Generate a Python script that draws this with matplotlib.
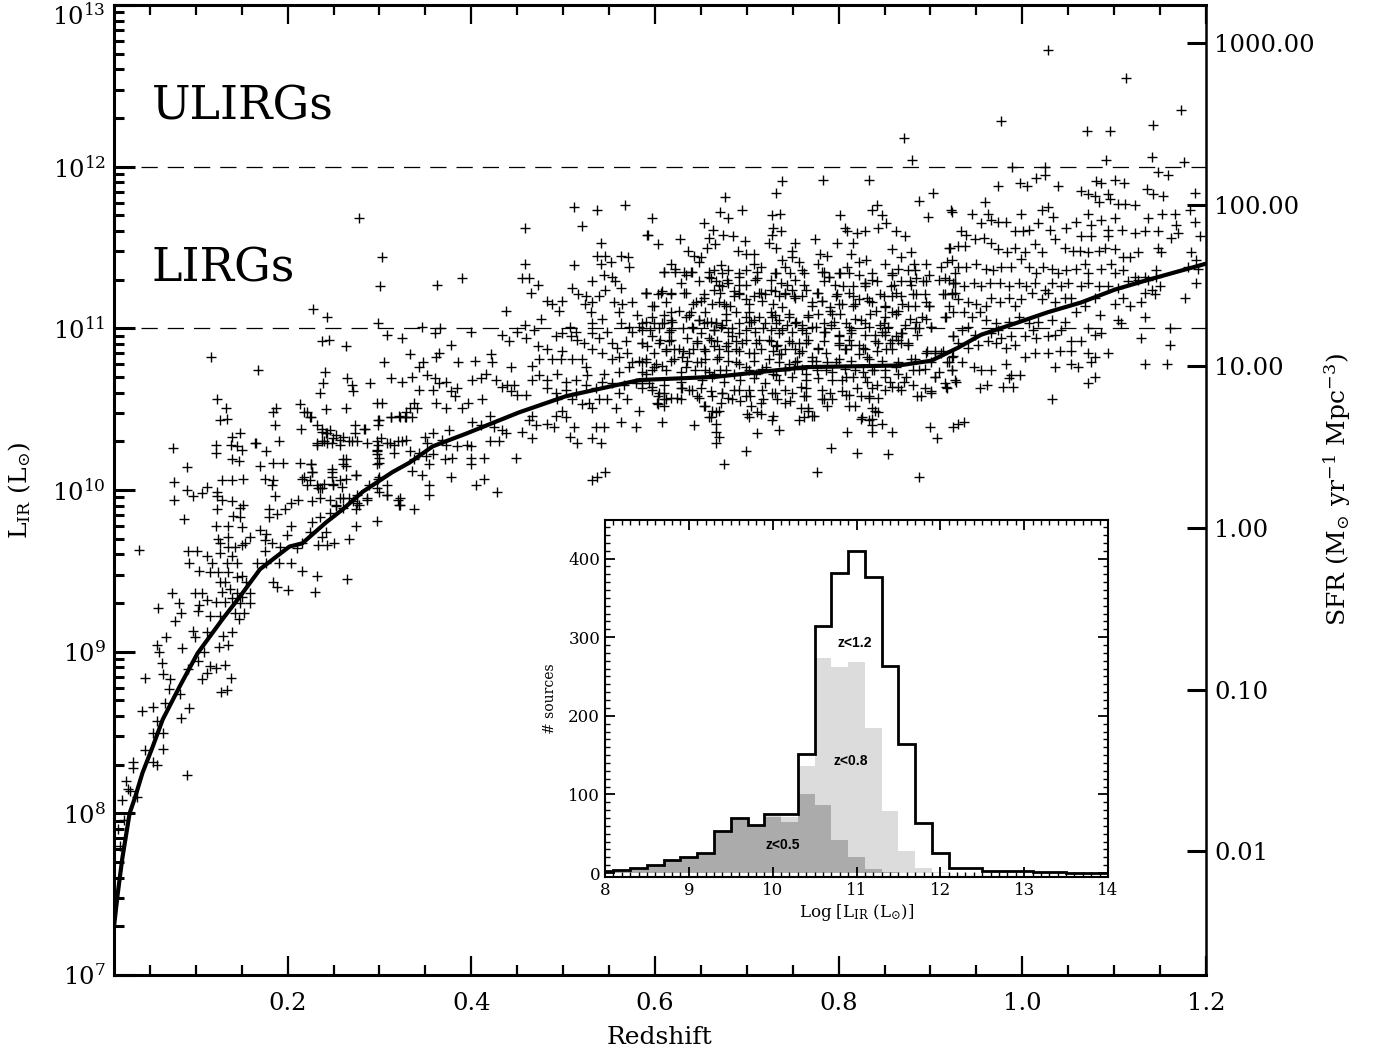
import numpy as np
import matplotlib
matplotlib.use('Agg')
import matplotlib.pyplot as plt
from matplotlib.ticker import FixedLocator, MultipleLocator, LogLocator, NullFormatter, NullLocator, FormatStrFormatter, FuncFormatter

plt.rcParams['font.family'] = 'DejaVu Serif'
plt.rcParams['mathtext.fontset'] = 'dejavuserif'

# running median of L_IR vs redshift
z_med = [0.011, 0.015, 0.02, 0.028, 0.034, 0.042, 0.053, 0.064, 0.083, 0.102, 0.129, 0.148,
         0.170, 0.202, 0.216, 0.242, 0.260, 0.282, 0.314, 0.333, 0.358, 0.395, 0.452, 0.503,
         0.583, 0.666, 0.764, 0.865, 0.901, 0.930, 0.955, 0.992, 1.028, 1.064, 1.101, 1.137, 1.200]
logL_med = [7.30, 7.50, 7.72, 8.00, 8.10, 8.25, 8.41, 8.58, 8.79, 8.99, 9.20, 9.34,
            9.51, 9.65, 9.67, 9.80, 9.88, 9.99, 10.11, 10.17, 10.27, 10.35, 10.48, 10.58,
            10.68, 10.70, 10.76, 10.77, 10.80, 10.88, 10.96, 11.03, 11.10, 11.16, 11.24, 11.30, 11.40]

# sources (z, log L_IR)
pts_low = [
    (0.038, 9.63), (0.075, 10.26), (0.090, 10.14), (0.076, 10.05), (0.076, 9.94), (0.090, 10.00),
    (0.097, 9.96), (0.087, 9.82), (0.059, 9.27), (0.074, 9.36), (0.082, 9.30), (0.084, 9.24),
    (0.077, 9.19), (0.068, 9.09), (0.058, 9.04), (0.060, 9.00), (0.063, 8.93), (0.045, 8.84),
    (0.064, 8.86), (0.072, 8.83), (0.071, 8.77), (0.053, 8.66), (0.066, 8.68), (0.041, 8.63),
    (0.058, 8.57), (0.053, 8.50), (0.064, 8.50), (0.045, 8.39), (0.064, 8.40), (0.053, 8.32),
    (0.058, 8.30), (0.032, 8.32), (0.032, 8.28), (0.024, 8.20), (0.028, 8.14), (0.036, 8.10),
    (0.090, 8.24), (0.083, 8.74), (0.093, 8.65), (0.084, 8.59), (0.085, 9.02), (0.097, 9.13),
    (0.099, 9.09), (0.102, 8.94), (0.092, 8.89), (0.107, 8.83), (0.112, 8.87), (0.115, 8.91),
    (0.122, 8.90), (0.132, 8.92), (0.138, 8.84), (0.128, 8.75), (0.134, 8.76), (0.125, 9.03),
    (0.135, 9.04), (0.130, 9.10), (0.139, 9.12), (0.112, 9.12), (0.109, 9.00), (0.115, 9.22),
    (0.126, 9.22), (0.104, 9.29), (0.102, 9.25), (0.112, 9.32), (0.099, 9.36), (0.107, 9.36),
    (0.122, 9.31), (0.132, 9.31), (0.140, 9.33), (0.148, 9.30), (0.153, 9.24), (0.147, 9.20),
    (0.143, 9.24), (0.159, 9.30), (0.150, 9.34), (0.159, 9.36), (0.129, 9.37), (0.137, 9.39),
    (0.132, 9.43), (0.126, 9.43), (0.145, 9.36), (0.115, 9.49), (0.124, 9.49), (0.135, 9.49),
    (0.145, 9.46), (0.150, 9.47), (0.155, 9.43), (0.104, 9.50), (0.093, 9.55), (0.092, 9.62),
    (0.101, 9.62), (0.112, 9.59), (0.118, 9.55), (0.126, 9.61), (0.134, 9.55), (0.139, 9.59),
    (0.145, 9.55), (0.135, 9.65), (0.143, 9.65), (0.150, 9.66), (0.154, 9.67), (0.126, 9.67),
    (0.135, 9.71), (0.124, 9.70), (0.159, 9.71), (0.122, 9.78), (0.135, 9.78), (0.150, 9.77),
    (0.141, 9.84), (0.148, 9.83), (0.148, 9.89), (0.151, 9.91), (0.139, 9.93), (0.123, 9.88),
    (0.123, 9.96), (0.123, 9.99), (0.129, 9.94), (0.129, 10.06), (0.140, 10.06), (0.151, 10.07),
    (0.112, 10.02), (0.107, 9.98), (0.122, 10.23), (0.122, 10.28), (0.138, 10.28), (0.145, 10.27),
    (0.150, 10.25), (0.140, 10.19), (0.147, 10.18), (0.140, 10.33), (0.148, 10.35), (0.126, 10.43),
    (0.134, 10.44), (0.133, 10.51), (0.123, 10.56), (0.117, 10.82), (0.168, 10.74),
    (0.015, 7.90), (0.020, 8.08), (0.022, 7.96), (0.026, 8.15), (0.017, 7.80),
]

pts_mid = [
    (0.166, 10.29), (0.176, 10.24), (0.170, 10.15), (0.184, 10.17), (0.195, 10.17), (0.213, 10.17),
    (0.226, 10.16), (0.175, 10.07), (0.184, 10.06), (0.183, 10.03), (0.186, 9.96), (0.180, 9.88),
    (0.188, 9.85), (0.180, 9.83), (0.197, 9.88), (0.204, 9.92), (0.211, 9.94), (0.204, 9.78),
    (0.170, 9.75), (0.177, 9.73), (0.175, 9.69), (0.183, 9.67), (0.192, 9.65), (0.199, 9.72),
    (0.175, 9.62), (0.167, 9.55), (0.177, 9.55), (0.191, 9.55), (0.204, 9.55), (0.184, 9.43),
    (0.188, 9.40), (0.201, 9.38), (0.216, 9.50), (0.232, 9.47), (0.230, 9.37), (0.265, 9.45),
    (0.210, 9.64), (0.216, 9.67), (0.224, 9.74), (0.233, 9.66), (0.243, 9.66), (0.251, 9.67),
    (0.238, 9.71), (0.242, 9.74), (0.267, 9.70), (0.275, 9.78), (0.297, 9.81), (0.227, 9.80),
    (0.235, 9.83), (0.246, 9.86), (0.253, 9.90), (0.260, 9.89), (0.275, 9.88), (0.257, 9.95),
    (0.267, 9.95), (0.276, 9.92), (0.287, 9.94), (0.308, 9.97), (0.322, 9.95), (0.322, 9.91),
    (0.297, 10.01), (0.308, 10.03), (0.300, 10.08), (0.257, 10.06), (0.264, 10.07), (0.275, 10.09),
    (0.249, 10.04), (0.232, 10.03), (0.238, 10.01), (0.216, 10.07), (0.224, 10.06), (0.235, 10.01),
    (0.248, 10.11), (0.264, 10.19), (0.260, 10.16), (0.227, 10.11), (0.232, 10.28), (0.240, 10.30),
    (0.248, 10.29), (0.257, 10.31), (0.267, 10.30), (0.276, 10.30), (0.286, 10.29), (0.297, 10.30),
    (0.308, 10.29), (0.316, 10.28), (0.325, 10.30), (0.297, 10.25), (0.316, 10.23), (0.299, 10.17),
    (0.297, 10.22), (0.232, 10.40), (0.238, 10.36), (0.243, 10.35), (0.253, 10.34), (0.260, 10.33),
    (0.273, 10.40), (0.273, 10.35), (0.283, 10.38), (0.297, 10.54), (0.303, 10.54), (0.298, 10.43),
    (0.298, 10.40), (0.313, 10.45), (0.322, 10.45), (0.329, 10.45), (0.242, 10.50), (0.264, 10.51),
    (0.215, 10.38), (0.218, 10.48), (0.224, 10.45), (0.213, 10.53), (0.187, 10.51), (0.184, 10.48),
    (0.186, 10.40), (0.191, 10.30), (0.165, 10.29), (0.320, 9.94),
    (0.278, 11.68), (0.303, 11.44), (0.301, 11.26), (0.363, 11.27), (0.390, 11.31), (0.228, 11.12),
    (0.243, 11.07), (0.298, 11.03), (0.238, 10.92), (0.245, 10.93), (0.264, 10.89), (0.308, 10.96),
    (0.325, 10.94), (0.346, 11.01), (0.360, 10.97), (0.366, 11.00), (0.400, 10.98), (0.378, 10.90),
    (0.333, 10.84), (0.347, 10.79), (0.305, 10.79), (0.362, 10.82), (0.365, 10.85), (0.343, 10.76),
    (0.386, 10.79), (0.404, 10.80), (0.421, 10.84), (0.423, 10.79), (0.443, 10.76), (0.241, 10.73),
    (0.239, 10.66), (0.235, 10.60), (0.265, 10.69), (0.270, 10.65), (0.271, 10.61), (0.290, 10.66),
    (0.313, 10.69), (0.325, 10.67), (0.336, 10.70), (0.352, 10.71), (0.361, 10.69), (0.365, 10.66),
    (0.373, 10.67), (0.378, 10.61), (0.384, 10.63), (0.382, 10.58), (0.358, 10.62), (0.343, 10.62),
    (0.401, 10.68), (0.411, 10.69), (0.416, 10.72), (0.427, 10.68), (0.433, 10.64), (0.439, 10.65),
    (0.447, 10.65), (0.443, 10.61), (0.450, 10.59), (0.460, 10.59), (0.412, 10.56), (0.396, 10.54),
    (0.390, 10.51), (0.362, 10.54), (0.373, 10.51), (0.338, 10.54), (0.333, 10.51), (0.341, 10.51),
    (0.329, 10.48), (0.336, 10.45), (0.313, 10.45), (0.321, 10.46), (0.328, 10.45), (0.299, 10.43),
    (0.284, 10.38), (0.221, 10.48), (0.225, 10.45), (0.238, 10.38), (0.246, 10.37), (0.242, 10.35),
    (0.249, 10.32), (0.232, 10.29), (0.237, 10.30), (0.243, 10.29), (0.257, 10.28), (0.270, 10.30),
    (0.302, 10.32), (0.298, 10.28), (0.297, 10.24), (0.300, 10.20), (0.297, 10.16), (0.311, 10.29),
    (0.320, 10.30), (0.329, 10.31), (0.333, 10.24), (0.338, 10.19), (0.343, 10.23), (0.351, 10.21),
    (0.350, 10.33), (0.358, 10.35), (0.352, 10.29), (0.368, 10.31), (0.376, 10.37), (0.373, 10.28),
    (0.385, 10.27), (0.395, 10.28), (0.400, 10.27), (0.401, 10.42), (0.411, 10.40), (0.420, 10.46),
    (0.425, 10.39), (0.433, 10.37), (0.438, 10.35), (0.420, 10.30), (0.430, 10.30), (0.414, 10.20),
    (0.400, 10.20), (0.400, 10.16), (0.379, 10.20), (0.371, 10.19), (0.358, 10.22), (0.354, 10.16),
    (0.346, 10.09), (0.336, 10.12), (0.378, 10.08), (0.354, 10.03), (0.354, 9.97), (0.405, 10.03),
    (0.414, 10.07), (0.428, 9.99), (0.449, 10.20), (0.308, 9.97), (0.321, 9.91), (0.338, 9.88),
    (0.287, 9.95), (0.276, 9.97), (0.300, 9.99), (0.298, 10.07), (0.289, 10.03), (0.274, 10.09),
    (0.259, 10.02), (0.249, 10.03), (0.248, 10.08), (0.248, 10.13), (0.260, 10.19), (0.264, 10.15),
    (0.226, 10.16), (0.227, 10.11), (0.218, 10.08), (0.221, 10.03), (0.233, 10.01), (0.240, 10.04),
    (0.235, 9.95), (0.227, 9.93), (0.246, 9.94), (0.253, 9.91), (0.260, 9.95), (0.271, 9.93),
    (0.278, 9.91),
]

pts_c = [
    (0.458, 11.62), (0.512, 11.75), (0.537, 11.73), (0.567, 11.76), (0.521, 11.63), (0.591, 11.58),
    (0.541, 11.53), (0.458, 11.40), (0.537, 11.45), (0.546, 11.45), (0.563, 11.45), (0.571, 11.44),
    (0.541, 11.40), (0.552, 11.41), (0.572, 11.38), (0.512, 11.39), (0.455, 11.31), (0.463, 11.31),
    (0.473, 11.27), (0.465, 11.22), (0.510, 11.25), (0.532, 11.29), (0.545, 11.33), (0.553, 11.32),
    (0.557, 11.29), (0.563, 11.25), (0.546, 11.24), (0.590, 11.22), (0.482, 11.17), (0.488, 11.15),
    (0.499, 11.17), (0.495, 11.11), (0.516, 11.21), (0.525, 11.20), (0.532, 11.16), (0.524, 11.15),
    (0.539, 11.20), (0.555, 11.16), (0.564, 11.15), (0.575, 11.16), (0.438, 11.11), (0.476, 11.06),
    (0.530, 11.10), (0.542, 11.06), (0.561, 11.10), (0.563, 11.03), (0.580, 11.08), (0.583, 11.01),
    (0.572, 11.01), (0.458, 11.02), (0.468, 10.99), (0.450, 10.98), (0.434, 10.96), (0.441, 10.92),
    (0.460, 10.94), (0.507, 11.01), (0.514, 10.98), (0.509, 10.95), (0.515, 10.93), (0.523, 10.91),
    (0.499, 10.97), (0.492, 10.95), (0.532, 11.03), (0.532, 10.97), (0.539, 10.94), (0.548, 10.98),
    (0.553, 10.91), (0.559, 10.88), (0.568, 10.92), (0.575, 10.98), (0.586, 10.91), (0.483, 10.87),
    (0.473, 10.89), (0.499, 10.86), (0.498, 10.81), (0.488, 10.81), (0.474, 10.81), (0.466, 10.77),
    (0.510, 10.81), (0.521, 10.81), (0.532, 10.87), (0.542, 10.85), (0.553, 10.81), (0.561, 10.82),
    (0.570, 10.85), (0.575, 10.79), (0.586, 10.79), (0.572, 10.76), (0.561, 10.73), (0.545, 10.72),
    (0.525, 10.76), (0.526, 10.71), (0.514, 10.68), (0.503, 10.67), (0.493, 10.72), (0.483, 10.68),
    (0.474, 10.71), (0.466, 10.68), (0.482, 10.63), (0.492, 10.60), (0.503, 10.62), (0.514, 10.60),
    (0.525, 10.65), (0.536, 10.63), (0.542, 10.67), (0.553, 10.66), (0.566, 10.65), (0.579, 10.66),
    (0.590, 10.72), (0.561, 10.60), (0.548, 10.56), (0.539, 10.56), (0.528, 10.54), (0.532, 10.51),
    (0.521, 10.53), (0.510, 10.56), (0.493, 10.56), (0.499, 10.49), (0.503, 10.45), (0.492, 10.46),
    (0.483, 10.41), (0.490, 10.39), (0.466, 10.46), (0.471, 10.40), (0.463, 10.43), (0.455, 10.36),
    (0.466, 10.32), (0.512, 10.39), (0.536, 10.39), (0.545, 10.39), (0.563, 10.42), (0.579, 10.39),
    (0.583, 10.49), (0.558, 10.51), (0.570, 10.56), (0.507, 10.33), (0.515, 10.29), (0.532, 10.32),
    (0.541, 10.29), (0.532, 10.06), (0.537, 10.08), (0.546, 10.11),
]

pts_d = [
    (0.871, 12.18), (0.880, 12.04), (0.738, 11.91), (0.783, 11.92), (0.833, 11.92), (0.903, 11.84),
    (0.732, 11.84), (0.676, 11.81), (0.888, 11.79), (0.842, 11.76), (0.671, 11.72), (0.695, 11.73),
    (0.679, 11.68), (0.597, 11.68), (0.727, 11.70), (0.736, 11.71), (0.802, 11.70), (0.836, 11.73),
    (0.847, 11.70), (0.897, 11.69), (0.922, 11.73), (0.653, 11.65), (0.592, 11.58), (0.603, 11.52),
    (0.627, 11.55), (0.663, 11.61), (0.674, 11.58), (0.685, 11.57), (0.698, 11.54), (0.659, 11.56),
    (0.665, 11.52), (0.657, 11.50), (0.636, 11.48), (0.642, 11.45), (0.650, 11.44), (0.690, 11.48),
    (0.699, 11.46), (0.708, 11.46), (0.727, 11.58), (0.729, 11.62), (0.737, 11.60), (0.724, 11.53),
    (0.732, 11.50), (0.753, 11.53), (0.749, 11.48), (0.774, 11.55), (0.798, 11.53), (0.807, 11.62),
    (0.809, 11.60), (0.820, 11.59), (0.829, 11.60), (0.843, 11.62), (0.852, 11.65), (0.862, 11.60),
    (0.872, 11.57), (0.816, 11.53), (0.814, 11.46), (0.780, 11.46), (0.787, 11.45), (0.858, 11.49),
    (0.868, 11.44), (0.879, 11.47), (0.921, 11.50), (0.911, 11.38), (0.918, 11.41), (0.618, 11.40),
    (0.610, 11.35), (0.622, 11.37), (0.634, 11.33), (0.640, 11.35), (0.648, 11.41), (0.664, 11.36),
    (0.672, 11.39), (0.680, 11.36), (0.659, 11.32), (0.666, 11.29), (0.678, 11.30), (0.691, 11.32),
    (0.699, 11.36), (0.708, 11.40), (0.715, 11.38), (0.711, 11.31), (0.732, 11.34), (0.738, 11.42),
    (0.749, 11.44), (0.742, 11.38), (0.757, 11.41), (0.760, 11.36), (0.778, 11.40), (0.784, 11.35),
    (0.789, 11.32), (0.800, 11.34), (0.809, 11.38), (0.822, 11.41), (0.830, 11.42), (0.836, 11.30),
    (0.829, 11.28), (0.851, 11.40), (0.858, 11.34), (0.865, 11.37), (0.876, 11.36), (0.882, 11.40),
    (0.895, 11.40), (0.884, 11.31), (0.895, 11.29), (0.879, 11.27), (0.868, 11.29), (0.857, 11.26),
    (0.849, 11.20), (0.858, 11.20), (0.868, 11.20), (0.884, 11.21), (0.895, 11.16), (0.898, 11.14),
    (0.916, 11.21), (0.923, 11.21), (0.927, 11.28), (0.917, 11.07), (0.590, 11.22), (0.599, 11.14),
    (0.607, 11.22), (0.618, 11.21), (0.634, 11.22), (0.612, 11.16), (0.617, 11.10), (0.626, 11.11),
    (0.639, 11.10), (0.645, 11.16), (0.653, 11.19), (0.664, 11.24), (0.673, 11.26), (0.670, 11.16),
    (0.677, 11.14), (0.686, 11.20), (0.691, 11.22), (0.699, 11.18), (0.708, 11.20), (0.715, 11.22),
    (0.726, 11.24), (0.735, 11.20), (0.742, 11.22), (0.749, 11.24), (0.753, 11.19), (0.764, 11.24),
    (0.771, 11.16), (0.778, 11.22), (0.782, 11.17), (0.791, 11.11), (0.797, 11.20), (0.800, 11.15),
    (0.811, 11.22), (0.816, 11.14), (0.822, 11.18), (0.829, 11.26), (0.836, 11.16), (0.841, 11.11),
    (0.851, 11.13), (0.858, 11.10), (0.865, 11.11), (0.876, 11.14), (0.884, 11.04), (0.895, 11.06),
    (0.901, 11.01), (0.925, 10.95), (0.586, 11.03), (0.597, 11.07), (0.608, 11.03), (0.617, 10.99),
    (0.618, 11.05), (0.634, 11.07), (0.640, 11.01), (0.648, 11.05), (0.653, 11.03), (0.661, 11.04),
    (0.666, 11.03), (0.664, 10.99), (0.672, 11.01), (0.677, 11.05), (0.684, 11.00), (0.691, 11.03),
    (0.699, 11.07), (0.705, 11.04), (0.713, 11.07), (0.718, 11.00), (0.727, 11.07), (0.732, 11.03),
    (0.738, 10.99), (0.746, 11.07), (0.754, 11.04), (0.760, 10.99), (0.767, 11.07), (0.775, 11.01),
    (0.784, 10.98), (0.792, 11.02), (0.800, 10.95), (0.808, 11.03), (0.814, 10.99), (0.824, 11.05),
    (0.833, 11.01), (0.840, 10.96), (0.849, 11.03), (0.851, 10.98), (0.862, 10.95), (0.868, 10.97),
    (0.876, 10.91), (0.887, 11.00), (0.597, 10.95), (0.591, 10.89), (0.604, 10.91), (0.612, 10.87),
    (0.618, 10.93), (0.626, 10.87), (0.629, 10.82), (0.637, 10.85), (0.646, 10.91), (0.653, 10.87),
    (0.661, 10.93), (0.664, 10.89), (0.670, 10.82), (0.677, 10.89), (0.684, 10.95), (0.688, 10.87),
    (0.695, 10.91), (0.702, 10.85), (0.710, 10.91), (0.715, 10.87), (0.724, 10.93), (0.732, 10.89),
    (0.735, 10.84), (0.742, 10.87), (0.749, 10.91), (0.757, 10.85), (0.764, 10.91), (0.771, 10.82),
    (0.778, 10.88), (0.786, 10.85), (0.800, 10.90), (0.808, 10.87), (0.814, 10.90), (0.822, 10.84),
    (0.829, 10.87), (0.833, 10.81), (0.843, 10.91), (0.852, 10.87), (0.858, 10.93), (0.868, 10.91),
    (0.879, 10.81), (0.895, 10.85), (0.905, 10.85), (0.912, 10.85), (0.583, 10.80), (0.590, 10.79),
    (0.599, 10.76), (0.608, 10.77), (0.618, 10.80), (0.634, 10.76), (0.646, 10.79), (0.655, 10.74),
    (0.664, 10.72), (0.677, 10.74), (0.688, 10.79), (0.699, 10.76), (0.710, 10.72), (0.721, 10.76),
    (0.732, 10.71), (0.742, 10.74), (0.753, 10.79), (0.764, 10.72), (0.775, 10.80), (0.786, 10.74),
    (0.797, 10.79), (0.808, 10.70), (0.818, 10.74), (0.829, 10.70), (0.836, 10.74), (0.851, 10.70),
    (0.862, 10.76), (0.873, 10.70), (0.887, 10.74), (0.905, 10.70), (0.923, 10.74), (0.920, 10.79),
    (0.586, 10.66), (0.597, 10.64), (0.604, 10.60), (0.602, 10.54), (0.610, 10.56), (0.618, 10.57),
    (0.628, 10.56), (0.629, 10.63), (0.640, 10.62), (0.646, 10.58), (0.655, 10.52), (0.661, 10.45),
    (0.667, 10.48), (0.672, 10.54), (0.673, 10.60), (0.684, 10.56), (0.691, 10.62), (0.699, 10.58),
    (0.705, 10.52), (0.702, 10.45), (0.711, 10.48), (0.716, 10.54), (0.727, 10.60), (0.733, 10.56),
    (0.742, 10.54), (0.749, 10.60), (0.759, 10.64), (0.764, 10.58), (0.759, 10.51), (0.767, 10.49),
    (0.762, 10.45), (0.771, 10.46), (0.782, 10.56), (0.791, 10.60), (0.808, 10.59), (0.811, 10.52),
    (0.824, 10.58), (0.833, 10.58), (0.836, 10.51), (0.843, 10.48), (0.833, 10.43), (0.836, 10.40),
    (0.847, 10.41), (0.858, 10.64), (0.868, 10.62), (0.890, 10.58), (0.901, 10.61), (0.917, 10.64),
    (0.927, 10.68), (0.727, 10.43), (0.735, 10.37), (0.757, 10.43), (0.824, 10.44), (0.809, 10.36),
    (0.836, 10.36), (0.858, 10.36), (0.900, 10.39), (0.907, 10.32), (0.925, 10.39), (0.608, 10.42),
    (0.642, 10.40), (0.666, 10.41), (0.667, 10.36), (0.670, 10.33), (0.667, 10.29), (0.711, 10.35),
    (0.699, 10.24), (0.792, 10.26), (0.820, 10.23), (0.854, 10.22), (0.675, 10.16), (0.776, 10.11),
    (0.887, 10.08),
]

# denser core of the cloud, 0.58 < z < 0.93
pts_f = [
    (0.610, 11.35), (0.622, 11.35), (0.632, 11.35), (0.639, 11.35), (0.659, 11.35), (0.673, 11.34),
    (0.691, 11.34), (0.711, 11.35), (0.731, 11.34), (0.747, 11.34), (0.628, 11.28), (0.648, 11.29),
    (0.661, 11.31), (0.670, 11.27), (0.679, 11.28), (0.691, 11.27), (0.699, 11.27), (0.709, 11.30),
    (0.726, 11.30), (0.737, 11.28), (0.744, 11.27), (0.753, 11.30), (0.590, 11.22), (0.603, 11.21),
    (0.608, 11.23), (0.617, 11.22), (0.632, 11.22), (0.653, 11.21), (0.671, 11.22), (0.686, 11.23),
    (0.691, 11.21), (0.713, 11.22), (0.720, 11.21), (0.731, 11.23), (0.742, 11.21), (0.751, 11.20),
    (0.597, 11.14), (0.641, 11.15), (0.650, 11.17), (0.662, 11.15), (0.675, 11.15), (0.682, 11.14),
    (0.702, 11.15), (0.717, 11.17), (0.728, 11.15), (0.738, 11.13), (0.610, 11.08), (0.637, 11.08),
    (0.655, 11.10), (0.677, 11.09), (0.688, 11.10), (0.702, 11.10), (0.726, 11.10), (0.731, 11.08),
    (0.746, 11.09), (0.590, 11.04), (0.599, 11.03), (0.610, 11.03), (0.619, 11.04), (0.648, 11.05),
    (0.657, 11.04), (0.666, 11.03), (0.673, 11.02), (0.702, 11.04), (0.708, 11.05), (0.720, 11.03),
    (0.735, 11.05), (0.744, 11.02), (0.753, 11.03), (0.586, 10.99), (0.595, 10.99), (0.604, 11.00),
    (0.615, 10.98), (0.630, 11.00), (0.641, 11.00), (0.650, 10.97), (0.664, 10.99), (0.680, 10.98),
    (0.691, 10.97), (0.699, 10.99), (0.709, 10.98), (0.726, 10.99), (0.735, 10.97), (0.749, 10.98),
    (0.586, 10.91), (0.606, 10.93), (0.615, 10.92), (0.635, 10.94), (0.646, 10.92), (0.659, 10.94),
    (0.668, 10.92), (0.679, 10.91), (0.688, 10.92), (0.699, 10.93), (0.713, 10.93), (0.726, 10.92),
    (0.733, 10.90), (0.746, 10.92), (0.599, 10.85), (0.612, 10.86), (0.621, 10.87), (0.630, 10.86),
    (0.641, 10.87), (0.655, 10.86), (0.670, 10.87), (0.680, 10.86), (0.691, 10.86), (0.708, 10.85),
    (0.728, 10.86), (0.737, 10.84), (0.753, 10.87), (0.590, 10.81), (0.601, 10.78), (0.621, 10.81),
    (0.635, 10.80), (0.650, 10.79), (0.655, 10.81), (0.668, 10.81), (0.680, 10.80), (0.691, 10.78),
    (0.708, 10.80), (0.724, 10.81), (0.735, 10.79), (0.746, 10.78), (0.755, 10.80), (0.586, 10.73),
    (0.597, 10.74), (0.612, 10.74), (0.628, 10.73), (0.644, 10.74), (0.659, 10.73), (0.671, 10.74),
    (0.686, 10.72), (0.702, 10.74), (0.717, 10.75), (0.728, 10.72), (0.742, 10.74), (0.751, 10.75),
    (0.593, 10.66), (0.610, 10.65), (0.628, 10.67), (0.651, 10.68), (0.662, 10.70), (0.675, 10.67),
    (0.693, 10.68), (0.708, 10.69), (0.720, 10.66), (0.735, 10.68), (0.749, 10.70), (0.586, 10.63),
    (0.597, 10.62), (0.610, 10.60), (0.628, 10.63), (0.637, 10.62), (0.650, 10.63), (0.661, 10.61),
    (0.673, 10.60), (0.686, 10.62), (0.702, 10.62), (0.717, 10.62), (0.731, 10.60), (0.742, 10.62),
    (0.603, 10.58), (0.612, 10.56), (0.624, 10.57), (0.648, 10.57), (0.662, 10.58), (0.680, 10.57),
    (0.693, 10.55), (0.704, 10.58), (0.718, 10.56), (0.747, 10.55), (0.603, 10.53), (0.610, 10.52),
    (0.653, 10.52), (0.662, 10.49), (0.670, 10.49), (0.700, 10.47), (0.715, 10.47), (0.728, 10.46),
    (0.659, 10.45),
    (0.762, 11.34), (0.782, 11.35), (0.789, 11.32), (0.802, 11.34), (0.811, 11.34), (0.822, 11.33),
    (0.836, 11.34), (0.858, 11.33), (0.883, 11.36), (0.898, 11.33), (0.916, 11.31), (0.927, 11.34),
    (0.762, 11.27), (0.784, 11.29), (0.796, 11.27), (0.805, 11.26), (0.816, 11.26), (0.829, 11.28),
    (0.842, 11.29), (0.860, 11.27), (0.878, 11.29), (0.892, 11.29), (0.909, 11.30), (0.925, 11.28),
    (0.760, 11.20), (0.776, 11.22), (0.798, 11.21), (0.816, 11.20), (0.831, 11.19), (0.845, 11.21),
    (0.862, 11.22), (0.881, 11.21), (0.894, 11.21), (0.914, 11.21), (0.927, 11.22), (0.771, 11.14),
    (0.782, 11.17), (0.791, 11.13), (0.804, 11.15), (0.818, 11.15), (0.833, 11.17), (0.851, 11.14),
    (0.869, 11.15), (0.883, 11.14), (0.898, 11.14), (0.767, 11.08), (0.778, 11.09), (0.793, 11.09),
    (0.802, 11.09), (0.818, 11.06), (0.834, 11.09), (0.851, 11.07), (0.862, 11.09), (0.878, 11.06),
    (0.891, 11.07), (0.916, 11.07), (0.760, 11.02), (0.771, 11.01), (0.784, 11.03), (0.795, 11.04),
    (0.811, 11.01), (0.829, 11.03), (0.845, 11.02), (0.854, 11.01), (0.872, 11.02), (0.883, 11.00),
    (0.901, 11.01), (0.764, 10.97), (0.785, 10.98), (0.800, 10.96), (0.814, 10.97), (0.829, 10.96),
    (0.847, 10.98), (0.851, 10.96), (0.869, 10.97), (0.885, 10.96), (0.925, 10.95), (0.757, 10.91),
    (0.767, 10.93), (0.784, 10.92), (0.800, 10.91), (0.811, 10.93), (0.822, 10.90), (0.840, 10.92),
    (0.856, 10.91), (0.865, 10.93), (0.876, 10.90), (0.760, 10.86), (0.778, 10.87), (0.807, 10.87),
    (0.827, 10.88), (0.842, 10.86), (0.858, 10.87), (0.896, 10.86), (0.905, 10.86), (0.914, 10.86),
    (0.771, 10.80), (0.787, 10.79), (0.800, 10.81), (0.814, 10.80), (0.831, 10.82), (0.847, 10.80),
    (0.865, 10.79), (0.883, 10.81), (0.901, 10.79), (0.918, 10.79), (0.923, 10.82), (0.760, 10.75),
    (0.776, 10.74), (0.793, 10.73), (0.807, 10.75), (0.827, 10.73), (0.838, 10.74), (0.851, 10.74),
    (0.865, 10.72), (0.881, 10.74), (0.894, 10.75), (0.909, 10.73), (0.923, 10.74), (0.764, 10.68),
    (0.778, 10.69), (0.793, 10.68), (0.804, 10.68), (0.816, 10.70), (0.831, 10.67), (0.842, 10.65),
    (0.856, 10.67), (0.871, 10.67), (0.881, 10.65), (0.905, 10.70), (0.916, 10.66), (0.764, 10.63),
    (0.782, 10.62), (0.804, 10.61), (0.820, 10.63), (0.836, 10.63), (0.851, 10.62), (0.865, 10.64),
    (0.885, 10.58), (0.894, 10.63), (0.901, 10.60), (0.918, 10.63), (0.762, 10.58), (0.784, 10.56),
    (0.793, 10.56), (0.811, 10.59), (0.818, 10.52), (0.833, 10.57), (0.843, 10.57), (0.840, 10.49),
    (0.787, 10.52), (0.767, 10.51), (0.773, 10.46), (0.825, 10.45), (0.836, 10.44),
]

pts_e = [
    (1.028, 12.72), (1.113, 12.55), (0.977, 12.28), (1.173, 12.35), (1.070, 12.22), (1.095, 12.22),
    (1.142, 12.26), (1.091, 12.04), (1.141, 12.06), (1.176, 12.03), (0.989, 12.00), (1.025, 12.00),
    (1.025, 11.95), (1.148, 11.97), (1.159, 11.95), (0.973, 11.88), (0.998, 11.90), (1.005, 11.88),
    (1.015, 11.93), (1.039, 11.88), (1.080, 11.91), (1.086, 11.90), (1.101, 11.92), (1.111, 11.90),
    (1.064, 11.85), (1.072, 11.83), (1.079, 11.82), (1.093, 11.83), (1.083, 11.78), (1.096, 11.80),
    (1.136, 11.86), (1.142, 11.83), (1.153, 11.82), (1.188, 11.84), (0.959, 11.78), (0.923, 11.72),
    (0.945, 11.71), (0.963, 11.71), (0.999, 11.71), (1.021, 11.73), (1.028, 11.75), (1.033, 11.69),
    (1.072, 11.71), (1.086, 11.67), (1.101, 11.68), (1.104, 11.77), (1.112, 11.77), (1.123, 11.76),
    (1.137, 11.68), (1.152, 11.71), (1.166, 11.71), (1.183, 11.73), (0.933, 11.60), (0.939, 11.58),
    (0.955, 11.65), (0.966, 11.67), (0.974, 11.66), (0.982, 11.66), (0.992, 11.60), (1.001, 11.60),
    (1.007, 11.61), (1.017, 11.65), (1.030, 11.61), (1.048, 11.62), (1.058, 11.66), (1.064, 11.57),
    (1.075, 11.64), (1.075, 11.57), (1.093, 11.61), (1.093, 11.57), (1.108, 11.61), (1.123, 11.59),
    (1.134, 11.60), (1.148, 11.60), (1.167, 11.64), (1.170, 11.59), (1.188, 11.66), (1.193, 11.57),
    (1.162, 11.56), (0.920, 11.50), (0.930, 11.51), (0.938, 11.51), (0.949, 11.55), (0.958, 11.56),
    (0.966, 11.53), (0.974, 11.49), (0.983, 11.47), (0.992, 11.50), (1.003, 11.47), (1.014, 11.52),
    (1.021, 11.47), (1.036, 11.55), (1.047, 11.50), (1.055, 11.48), (1.063, 11.48), (1.072, 11.47),
    (1.083, 11.48), (1.090, 11.50), (1.101, 11.49), (1.110, 11.44), (1.117, 11.44), (1.126, 11.47),
    (1.148, 11.50), (1.151, 11.47), (1.184, 11.47), (1.189, 11.42), (0.923, 11.42), (0.930, 11.38),
    (0.939, 11.38), (0.950, 11.40), (0.960, 11.37), (0.968, 11.36), (0.977, 11.38), (0.988, 11.38),
    (0.999, 11.43), (1.007, 11.38), (1.015, 11.34), (1.023, 11.38), (1.032, 11.37), (1.039, 11.34),
    (1.048, 11.36), (1.058, 11.37), (1.068, 11.40), (1.072, 11.34), (1.086, 11.37), (1.097, 11.40),
    (1.101, 11.34), (1.110, 11.36), (1.123, 11.32), (1.134, 11.32), (1.146, 11.36), (1.146, 11.32),
    (1.180, 11.38), (0.920, 11.30), (0.927, 11.28), (0.936, 11.26), (0.947, 11.28), (0.955, 11.26),
    (0.965, 11.28), (0.976, 11.28), (0.985, 11.26), (0.996, 11.28), (1.004, 11.26), (1.014, 11.28),
    (1.025, 11.24), (1.032, 11.28), (1.042, 11.26), (1.050, 11.28), (1.064, 11.26), (1.072, 11.28),
    (1.083, 11.26), (1.093, 11.26), (1.104, 11.25), (1.115, 11.29), (1.126, 11.30), (1.137, 11.30),
    (1.141, 11.24), (1.150, 11.26), (0.923, 11.22), (0.930, 11.18), (0.941, 11.16), (0.950, 11.15),
    (0.960, 11.14), (0.966, 11.19), (0.976, 11.16), (0.985, 11.19), (0.992, 11.14), (0.999, 11.18),
    (1.010, 11.22), (1.021, 11.18), (1.028, 11.22), (1.036, 11.16), (1.047, 11.19), (1.053, 11.19),
    (1.058, 11.10), (1.068, 11.14), (1.079, 11.19), (1.101, 11.15), (1.110, 11.19), (1.117, 11.14),
    (1.129, 11.16), (1.134, 11.22), (1.145, 11.21), (0.920, 11.14), (0.925, 11.10), (0.936, 11.10),
    (0.945, 11.07), (0.954, 11.10), (0.960, 11.05), (0.971, 11.03), (0.985, 11.04), (0.996, 11.07),
    (1.007, 11.03), (1.017, 11.04), (1.032, 11.05), (1.047, 11.04), (1.085, 11.08), (1.104, 11.05),
    (1.134, 11.07), (1.177, 11.19), (1.189, 11.28), (1.191, 11.37), (0.934, 10.99), (0.941, 11.01),
    (0.949, 10.96), (0.966, 10.97), (0.974, 10.99), (0.977, 10.94), (0.988, 10.95), (1.003, 10.95),
    (1.012, 10.99), (1.015, 10.94), (1.028, 10.95), (1.036, 10.96), (1.042, 10.99), (1.053, 10.92),
    (1.064, 10.92), (1.072, 11.00), (1.079, 10.96), (1.086, 10.97), (1.107, 11.03), (1.129, 10.94),
    (1.161, 11.00), (1.161, 10.90), (0.930, 10.91), (0.941, 10.88), (0.952, 10.90), (0.963, 10.92),
    (0.971, 10.91), (0.982, 10.88), (0.992, 10.90), (1.003, 10.82), (1.014, 10.85), (1.028, 10.85),
    (1.041, 10.86), (1.053, 10.86), (1.072, 10.85), (1.079, 10.82), (1.093, 10.85), (0.925, 10.83),
    (0.934, 10.79), (0.947, 10.76), (0.955, 10.74), (0.966, 10.74), (0.982, 10.78), (0.988, 10.71),
    (0.998, 10.71), (1.036, 10.76), (1.053, 10.78), (1.061, 10.76), (1.075, 10.79), (1.134, 10.78),
    (1.157, 10.78), (0.928, 10.67), (0.954, 10.63), (0.962, 10.65), (0.979, 10.64), (0.990, 10.64),
    (0.985, 10.69), (1.072, 10.66), (1.079, 10.70), (1.032, 10.56), (0.930, 10.41), (0.936, 10.42),
]

# inset histograms: bin edges 7.9 ... 14.1 (width 0.2)
hist_edges = np.round(np.arange(7.9, 14.11, 0.2), 2)
n_z12 = [2, 4, 6, 10, 16, 20, 26, 54, 70, 61, 75, 75, 151, 314, 382, 409, 376, 263, 164, 64,
         26, 6, 6, 3, 3, 2, 1, 1, 0, 0, 0]
n_z08 = [2, 3, 5, 9, 15, 19, 25, 53, 69, 60, 73, 71, 136, 273, 262, 268, 184, 79, 28, 6,
         1, 0, 0, 0, 0, 0, 0, 0, 0, 0, 0]
n_z05 = [2, 3, 5, 9, 15, 19, 25, 53, 69, 60, 71, 65, 100, 87, 42, 20, 5, 1, 0, 0,
         0, 0, 0, 0, 0, 0, 0, 0, 0, 0, 0]

sfr_factor = 1.72e-10
sfr_ticks = [0.01, 0.1, 1, 10, 100, 1000]

all_pts = np.array(pts_low + pts_mid + pts_c + pts_d + pts_f + pts_e)

fig = plt.figure(figsize=(13.74, 10.53), dpi=100)
ax = fig.add_axes([114/1374, 78/1053, 1092/1374, 970/1053])

ax.plot(all_pts[:, 0], 10**all_pts[:, 1], '+', color='k', ms=6.5, mew=1.0)
ax.plot(z_med, 10**np.array(logL_med), '-', color='k', lw=3)

for lev in [1e11, 1e12]:
    ax.plot([0.04, 1.2], [lev, lev], color='k', lw=0.9, dashes=(13, 8))

ax.text(0.052, 10**12.29, 'ULIRGs', fontsize=33, ha='left', va='baseline')
ax.text(0.052, 10**11.29, 'LIRGs', fontsize=33, ha='left', va='baseline')

def log_label(v, pos):
    e = int(round(np.log10(v)))
    if e >= 13:
        return ''
    return r'$10^{%d}$' % e

ax.set_yscale('log')
ax.set_ylim(1e7, 1e13)
ax.set_xlim(0.011, 1.2)
ax.xaxis.set_major_locator(FixedLocator([0.2, 0.4, 0.6, 0.8, 1.0, 1.2]))
ax.xaxis.set_major_formatter(FormatStrFormatter('%.1f'))
ax.xaxis.set_minor_locator(MultipleLocator(0.05))
ax.yaxis.set_major_locator(LogLocator(base=10, numticks=20))
ax.yaxis.set_major_formatter(FuncFormatter(log_label))
ax.yaxis.set_minor_locator(LogLocator(base=10, subs=np.arange(2, 10), numticks=20))
ax.yaxis.set_minor_formatter(NullFormatter())
ax.tick_params(which='both', direction='in', top=True, right=False, labelsize=17.5)
ax.tick_params(axis='y', which='major', length=15, width=2.2, pad=6)
ax.tick_params(axis='y', which='minor', length=7, width=2.2)
ax.tick_params(axis='x', which='major', length=14, width=1.6, pad=12)
ax.tick_params(axis='x', which='minor', length=7, width=1.6)
for side in ['left', 'bottom', 'top']:
    ax.spines[side].set_linewidth(2.2)
ax.spines['right'].set_linewidth(1.8)
# top label sits just under the frame edge, as in the original
ax.annotate(r'$10^{13}$', xy=(0, 1e13), xycoords=('axes fraction', 'data'),
            xytext=(-6.5, -8), textcoords='offset points', ha='right', va='center', fontsize=17.5)

ax.set_xlabel('Redshift', fontsize=18)
ax.xaxis.set_label_coords(0.5, -0.053)
ax.set_ylabel(r'L$_{\mathrm{IR}}$ (L$_{\odot}$)', fontsize=18)
ax.yaxis.set_label_coords(-0.074, 0.5)

ax2 = ax.twinx()
ax2.set_yscale('log')
ax2.set_ylim(1e7 * sfr_factor, 1e13 * sfr_factor)
ax2.yaxis.set_major_locator(FixedLocator(sfr_ticks))
ax2.yaxis.set_major_formatter(FormatStrFormatter('%.2f'))
ax2.yaxis.set_minor_locator(NullLocator())
ax2.tick_params(axis='y', direction='in', length=14, width=2.2, labelsize=17.5, pad=6)
ax2.set_ylabel(r'SFR (M$_{\odot}$ yr$^{-1}$ Mpc$^{-3}$)', fontsize=18)
ax2.yaxis.set_label_coords(1.106, 0.5)
for s in ax2.spines.values():
    s.set_visible(False)

# inset
axi = fig.add_axes([605/1374, 176/1053, 503/1374, 357/1053])
axi.stairs(n_z08, hist_edges, fill=True, color='#dcdcdc', lw=0)
axi.stairs(n_z05, hist_edges, fill=True, color='#ababab', lw=0)
axi.stairs(n_z12, hist_edges, color='k', lw=2, baseline=None)
axi.set_xlim(8, 14)
axi.set_ylim(-5, 449)
axi.xaxis.set_major_locator(MultipleLocator(1))
axi.xaxis.set_minor_locator(MultipleLocator(0.1))
axi.yaxis.set_major_locator(MultipleLocator(100))
axi.yaxis.set_minor_locator(MultipleLocator(10))
axi.tick_params(which='both', direction='in', top=True, right=True, labelsize=12)
axi.tick_params(which='major', length=7, width=1.3)
axi.tick_params(which='minor', length=3.5, width=1.0)
for s in axi.spines.values():
    s.set_linewidth(1.5)
axi.set_xlabel(r'Log [L$_{\mathrm{IR}}$ (L$_{\odot}$)]', fontsize=12, labelpad=2)
axi.set_ylabel('# sources', fontsize=10, labelpad=8)
lab_font = dict(fontsize=10, fontweight='bold', family='Liberation Sans', ha='center', va='center')
axi.text(10.98, 292, 'z<1.2', **lab_font)
axi.text(10.93, 143, 'z<0.8', **lab_font)
axi.text(10.12, 36, 'z<0.5', **lab_font)

fig.savefig('out.png', dpi=100)
